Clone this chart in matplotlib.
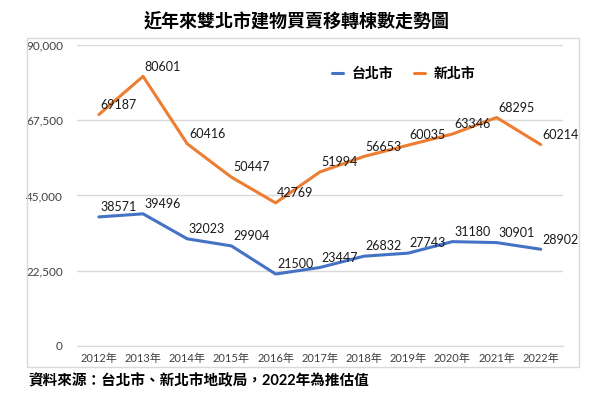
import matplotlib
matplotlib.use('Agg')
import matplotlib.pyplot as plt
from matplotlib.patches import Rectangle
from matplotlib.ticker import FuncFormatter

plt.rcParams['font.family'] = ['Lato', 'Noto Sans CJK TC', 'DejaVu Sans']

years = ['2012年', '2013年', '2014年', '2015年', '2016年', '2017年',
         '2018年', '2019年', '2020年', '2021年', '2022年']
taipei = [38571, 39496, 32023, 29904, 21500, 23447, 26832, 27743, 31180, 30901, 28902]
new_taipei = [69187, 80601, 60416, 50447, 42769, 51994, 56653, 60035, 63346, 68295, 60214]
y_ticks = [0, 22500, 45000, 67500, 90000]

blue = '#4472C4'
orange = '#ED7D31'

fig = plt.figure(figsize=(6, 3.94), dpi=100)
ax = fig.add_axes([0.128, 0.122, 0.81, 0.764])

# chart area border
fig.patches.append(Rectangle((27 / 600, 1 - 367 / 394), 552 / 600, 329 / 394,
                             transform=fig.transFigure, fill=False,
                             edgecolor='#D9D9D9', linewidth=1))

x = list(range(len(years)))
ax.plot(x, taipei, color=blue, lw=2.2, label='台北市', solid_capstyle='round')
ax.plot(x, new_taipei, color=orange, lw=2.2, label='新北市', solid_capstyle='round')

for xi, v in zip(x, taipei):
    ax.annotate(str(v), (xi, v), xytext=(1.2, 7), textcoords='offset points',
                ha='left', va='center', fontsize=9, color='#1a1a1a')
for xi, v in zip(x, new_taipei):
    ax.annotate(str(v), (xi, v), xytext=(1.2, 7), textcoords='offset points',
                ha='left', va='center', fontsize=9, color='#1a1a1a')

ax.set_xlim(-0.5, len(years) - 0.5)
ax.set_ylim(0, 90000)
ax.set_yticks(y_ticks)
ax.yaxis.set_major_formatter(FuncFormatter(lambda v, p: f'{int(v):,}'))
ax.set_xticks(x)
ax.set_xticklabels(years)
ax.tick_params(axis='both', length=0, colors='#404040')
ax.tick_params(axis='y', pad=10, labelsize=8.5)
ax.tick_params(axis='x', pad=5, labelsize=8)
ax.grid(axis='y', color='#D9D9D9', lw=1)
ax.set_axisbelow(True)
for s in ['top', 'right', 'left']:
    ax.spines[s].set_visible(False)
ax.spines['bottom'].set_color('#D9D9D9')

leg = ax.legend(loc='upper left', bbox_to_anchor=(0.5, 0.97), ncol=2, frameon=False,
                handlelength=0.8, handletextpad=0.6, columnspacing=1.5,
                prop={'size': 10, 'weight': 'bold'})

fig.text(0.495, 1 - 20 / 394, '近年來雙北市建物買賣移轉棟數走勢圖', ha='center', va='center',
         fontsize=13, fontweight='bold')
fig.text(28 / 600, 1 - 381 / 394, '資料來源：台北市、新北市地政局，2022年為推估值',
         ha='left', va='center', fontsize=10.5, fontweight='bold')

fig.savefig('out.png', dpi=100)
